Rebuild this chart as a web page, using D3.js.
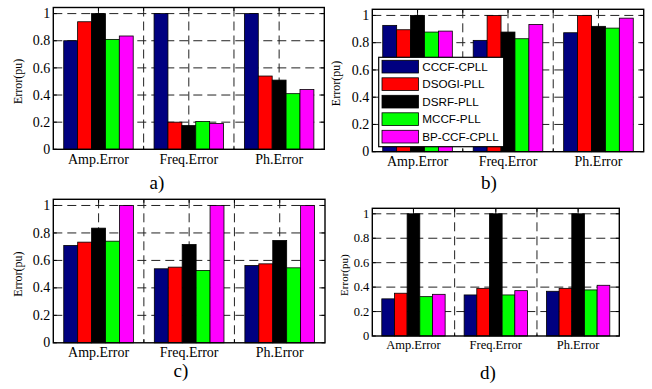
<!DOCTYPE html>
<html>
<head>
<meta charset="utf-8">
<script src="https://cdn.jsdelivr.net/npm/d3@7"></script>
<style>
  html, body { margin: 0; padding: 0; background: #fff; }
  svg { display: block; }
</style>
</head>
<body>
<svg id="fig" width="652" height="389"></svg>
<script>
// Normalised PLL error comparison, four test cases (a–d)
const categories = ["Amp.Error", "Freq.Error", "Ph.Error"];
const methods = ["CCCF-CPLL", "DSOGI-PLL", "DSRF-PLL", "MCCF-PLL", "BP-CCF-CPLL"];
const colors = ["#000080", "#ff0000", "#000000", "#00ff00", "#ff00ff"];
const yTicks = [0, 0.2, 0.4, 0.6, 0.8, 1];
const yTickLabels = ["0", "0.2", "0.4", "0.6", "0.8", "1"];
const panelNames = ["a)", "b)", "c)", "d)"];

// values per category, one entry per method (same order as `methods`)
const errorsA = [
  [0.80, 0.94, 1.00, 0.81, 0.835],
  [1.00, 0.20, 0.175, 0.205, 0.19],
  [1.00, 0.54, 0.51, 0.41, 0.44]
];
const errorsB = [
  [0.927, 0.895, 1.00, 0.878, 0.885],
  [0.817, 1.00, 0.878, 0.829, 0.934],
  [0.873, 1.00, 0.92, 0.907, 0.98]
];
const errorsC = [
  [0.709, 0.733, 0.835, 0.74, 1.00],
  [0.539, 0.551, 0.716, 0.527, 1.00],
  [0.563, 0.575, 0.745, 0.546, 1.00]
];
const errorsD = [
  [0.304, 0.35, 1.00, 0.322, 0.341],
  [0.336, 0.39, 1.00, 0.336, 0.371],
  [0.366, 0.39, 1.00, 0.377, 0.415]
];

const svg = d3.select("#fig");
const serif = "'Liberation Serif', 'Times New Roman', serif";
const sans = "'Liberation Sans', Arial, sans-serif";

// MATLAB-style grouped bars: group width = n/(n+1.5)
const groupWidth = methods.length / (methods.length + 1.5);
const barW = groupWidth / methods.length;
const yMax = 1.045;

function drawPanel(data, box, opts) {
  const x = d3.scaleLinear().domain([0.5, 3.5]).range([box.x0, box.x1]);
  const y = d3.scaleLinear().domain([0, yMax]).range([box.y1, box.y0]);
  const g = svg.append("g");

  const dash = "9,5";
  const gridColor = "#222";
  // horizontal grid
  g.append("g").selectAll("line").data(yTicks.filter(v => v > 0)).join("line")
    .attr("x1", box.x0).attr("x2", box.x1)
    .attr("y1", d => y(d)).attr("y2", d => y(d))
    .attr("stroke", gridColor).attr("stroke-width", 1)
    .attr("stroke-dasharray", dash);
  // vertical grid at category centres and boundaries
  const xGrid = [1, 1.5, 2, 2.5, 3];
  g.append("g").selectAll("line").data(xGrid).join("line")
    .attr("x1", d => x(d)).attr("x2", d => x(d))
    .attr("y1", box.y0).attr("y2", box.y1)
    .attr("stroke", gridColor).attr("stroke-width", 1)
    .attr("stroke-dasharray", dash);

  // bars
  const bars = [];
  data.forEach((row, ci) => row.forEach((v, mi) => bars.push({ ci, mi, v })));
  g.append("g").selectAll("rect").data(bars).join("rect")
    .attr("x", d => x(ci2x(d.ci) + (d.mi - (methods.length - 1) / 2) * barW - barW / 2))
    .attr("width", x(barW) - x(0))
    .attr("y", d => y(d.v))
    .attr("height", d => y(0) - y(d.v))
    .attr("fill", d => colors[d.mi])
    .attr("stroke", "#000").attr("stroke-width", 0.8);

  function ci2x(ci) { return ci + 1; }

  // ticks (inward) on all four sides
  const tl = 3.5;
  const tk = g.append("g").attr("stroke", "#000").attr("stroke-width", 1);
  yTicks.forEach(v => {
    tk.append("line").attr("x1", box.x0).attr("x2", box.x0 + tl).attr("y1", y(v)).attr("y2", y(v));
    tk.append("line").attr("x1", box.x1).attr("x2", box.x1 - tl).attr("y1", y(v)).attr("y2", y(v));
  });
  xGrid.forEach(v => {
    tk.append("line").attr("x1", x(v)).attr("x2", x(v)).attr("y1", box.y1).attr("y2", box.y1 - tl);
    tk.append("line").attr("x1", x(v)).attr("x2", x(v)).attr("y1", box.y0).attr("y2", box.y0 + tl);
  });

  // box
  g.append("rect")
    .attr("x", box.x0).attr("y", box.y0)
    .attr("width", box.x1 - box.x0).attr("height", box.y1 - box.y0)
    .attr("fill", "none").attr("stroke", "#000").attr("stroke-width", 1.4);

  // y tick labels
  g.append("g").selectAll("text").data(yTicks).join("text")
    .attr("x", box.x0 - 3).attr("y", d => y(d))
    .attr("dy", "0.33em")
    .attr("text-anchor", "end")
    .attr("font-family", serif).attr("font-size", opts.fs)
    .attr("fill", "#000")
    .text((d, i) => yTickLabels[i]);

  // x category labels
  g.append("g").selectAll("text").data(categories).join("text")
    .attr("x", (d, i) => x(i + 1)).attr("y", box.y1 + opts.xlOff)
    .attr("text-anchor", "middle")
    .attr("font-family", serif).attr("font-size", opts.fs)
    .attr("fill", "#000")
    .text(d => d);

  // y axis title
  g.append("text")
    .attr("transform", `translate(${opts.ylx},${(box.y0 + box.y1) / 2 + 3}) rotate(-90)`)
    .attr("text-anchor", "middle").attr("dominant-baseline", "central")
    .attr("font-family", serif).attr("font-size", opts.ylfs)
    .attr("fill", "#000")
    .text("Error(pu)");

  // panel caption
  svg.append("text")
    .attr("x", opts.cap[0]).attr("y", opts.cap[1])
    .attr("text-anchor", "middle")
    .attr("font-family", serif).attr("font-size", 19)
    .attr("fill", "#000")
    .text(opts.name);

  return { x, y, g };
}

drawPanel(errorsA, { x0: 53.3, x1: 324.3, y0: 7.5, y1: 149.3 },
  { fs: 14, xlOff: 15, ylx: 18.3, ylfs: 12, cap: [157, 189], name: panelNames[0] });
const pb = drawPanel(errorsB, { x0: 372.3, x1: 643.7, y0: 9.3, y1: 151.7 },
  { fs: 14, xlOff: 14, ylx: 335.5, ylfs: 12, cap: [489, 189], name: panelNames[1] });
drawPanel(errorsC, { x0: 53.3, x1: 325, y0: 199.3, y1: 342.8 },
  { fs: 14, xlOff: 14, ylx: 18, ylfs: 12, cap: [181, 377], name: panelNames[2] });
drawPanel(errorsD, { x0: 372.3, x1: 619.3, y0: 208.3, y1: 336 },
  { fs: 12.5, xlOff: 13, ylx: 344, ylfs: 11, cap: [488, 379], name: panelNames[3] });

// legend inside panel b
const leg = svg.append("g").attr("transform", "translate(378.7,57.3)");
leg.append("rect").attr("width", 125).attr("height", 89.4)
  .attr("fill", "#fff").attr("stroke", "#000").attr("stroke-width", 1.2);
methods.forEach((m, i) => {
  const row = leg.append("g").attr("transform", `translate(0,${3 + i * 17.5})`);
  row.append("rect").attr("x", 3.3).attr("y", 0).attr("width", 36.5).attr("height", 12.7)
    .attr("fill", colors[i]).attr("stroke", "#000").attr("stroke-width", 0.8);
  row.append("text").attr("x", 43.5).attr("y", 6.5).attr("dy", "0.35em")
    .attr("font-family", sans).attr("font-size", 11.7).attr("fill", "#000")
    .text(m);
});
</script>
</body>
</html>
